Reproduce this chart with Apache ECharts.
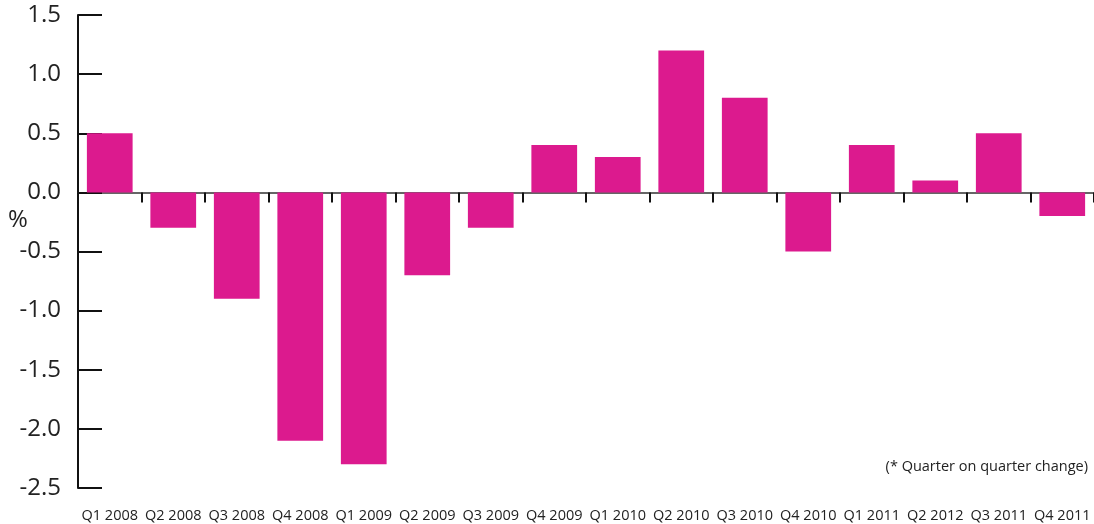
<!DOCTYPE html>
<html>
<head>
<meta charset="utf-8">
<script src="https://cdn.jsdelivr.net/npm/echarts@6/dist/echarts.min.js"></script>
<style>
  html, body { margin: 0; padding: 0; background: #fff; }
  #chart { width: 1094px; height: 524px; }
</style>
</head>
<body>
<div id="chart"></div>
<script>
// quarters along the bottom
const quarters = ['Q1 2008', 'Q2 2008', 'Q3 2008', 'Q4 2008', 'Q1 2009', 'Q2 2009', 'Q3 2009', 'Q4 2009',
  'Q1 2010', 'Q2 2010', 'Q3 2010', 'Q4 2010', 'Q1 2011', 'Q2 2012', 'Q3 2011', 'Q4 2011'];
// quarter on quarter change, %
const changes = [0.5, -0.3, -0.9, -2.1, -2.3, -0.7, -0.3, 0.4, 0.3, 1.2, 0.8, -0.5, 0.4, 0.1, 0.5, -0.2];
const yMin = -2.5;
const yMax = 1.5;
const yStep = 0.5;

const chart = echarts.init(document.getElementById('chart'));

const option = {
  animation: false,
  textStyle: { fontFamily: '"Open Sans", sans-serif' },
  grid: { left: 78, right: 0, top: 15, bottom: 36 },
  xAxis: [
    {
      // line through zero with the boundary ticks
      type: 'category',
      data: quarters,
      axisLine: { onZero: true, lineStyle: { color: '#333', width: 1.5 } },
      axisTick: { show: true, length: 10, lineStyle: { color: '#111', width: 2 } },
      axisLabel: { show: false }
    },
    {
      // labels only, at the bottom of the plot
      type: 'category',
      data: quarters,
      position: 'bottom',
      axisLine: { show: false, onZero: false },
      axisTick: { show: false },
      axisLabel: { color: '#222', fontSize: 14.5, margin: 20, interval: 0 }
    }
  ],
  yAxis: {
    type: 'value',
    min: yMin,
    max: yMax,
    interval: yStep,
    splitLine: { show: false },
    axisLine: { show: true, lineStyle: { color: '#111', width: 2 } },
    axisTick: { show: true, inside: true, length: 24, lineStyle: { color: '#111', width: 2 } },
    axisLabel: {
      color: '#222',
      fontSize: 24,
      margin: 17,
      formatter: v => v.toFixed(1)
    }
  },
  graphic: [
    {
      type: 'text',
      left: 8,
      top: 208,
      style: { text: '%', fontSize: 24, fill: '#222', fontFamily: '"Open Sans", sans-serif' }
    },
    {
      type: 'text',
      right: 6,
      top: 459,
      style: { text: '(* Quarter on quarter change)', fontSize: 14.5, fill: '#222', fontFamily: '"Open Sans", sans-serif' }
    }
  ],
  series: [
    {
      type: 'bar',
      data: changes,
      barCategoryGap: '28%',
      itemStyle: { color: '#dc1a8e' }
    }
  ]
};

chart.setOption(option);
</script>
</body>
</html>
